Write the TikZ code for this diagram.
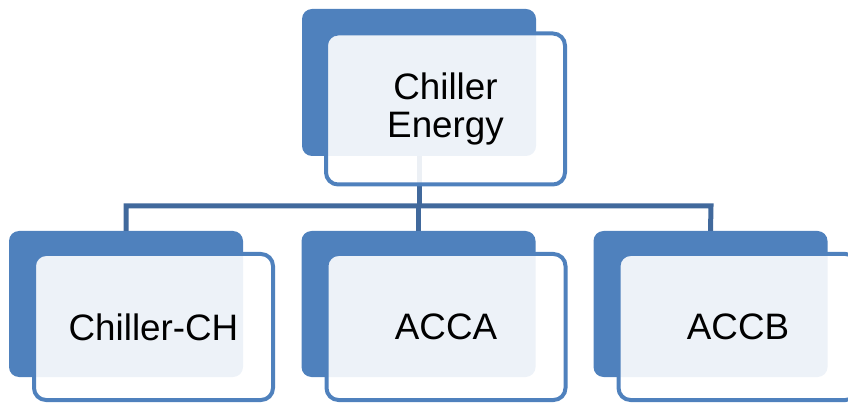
\documentclass[tikz,border=0pt]{standalone}
\usepackage{fontspec}
\setmainfont{Liberation Sans}
\definecolor{backblue}{HTML}{4F81BD}
\definecolor{linkblue}{HTML}{41699C}
\tikzset{
  x=1pt, y=-1pt,
  backcard/.style={rectangle, rounded corners=10pt, fill=backblue, draw=none,
    minimum width=234pt, minimum height=146pt, inner sep=0pt},
  frontcard/.style={rectangle, rounded corners=12pt, fill=white, fill opacity=0.9,
    text opacity=1, draw=backblue, draw opacity=1, line width=4pt,
    minimum width=239pt, minimum height=146pt, inner sep=0pt,
    font=\fontsize{36.8pt}{38pt}\selectfont, align=center},
  link/.style={draw=linkblue, line width=5pt}
}
\begin{document}
\begin{tikzpicture}
\useasboundingbox (0,0) rectangle (848,403);
% back cards
\node[backcard, minimum height=147pt] (tb) at (419,82.5) {};
\node[backcard] (lb) at (126,304) {};
\node[backcard] (mb) at (418.5,304) {};
\node[backcard] (rb) at (710.5,304) {};
% connectors
\coordinate (hl) at (126,206);
\coordinate (hr) at (711,206);
\draw[link] (tb.south) -- (tb.south |- hl);
\draw[link] (lb.north) -- (hl) -- (hr) -- (rb.north);
\draw[link] (mb.north) -- (mb.north |- hl);
% front cards
\node[frontcard, minimum height=151pt] (tf) at (445.5,109) {Chiller\\Energy};
\node[frontcard] (lf) at (153.5,327) {Chiller-CH};
\node[frontcard] (mf) at (446,327) {ACCA};
\node[frontcard] (rf) at (738,327) {ACCB};
\end{tikzpicture}
\end{document}
